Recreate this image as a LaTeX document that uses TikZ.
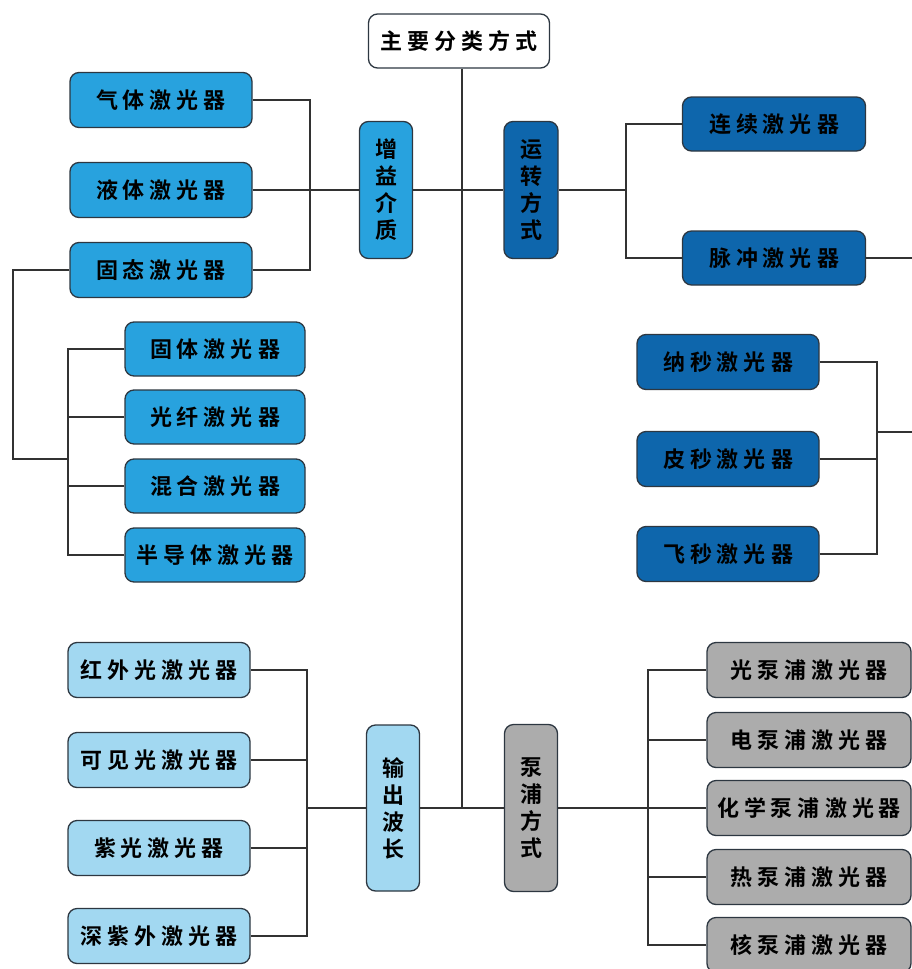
\documentclass[tikz,border=0pt]{standalone}
\usepackage{fontspec}
\newfontfamily\cjk{Noto Sans CJK SC}[BoldFont={Noto Sans CJK SC Bold}]
\newcommand\lsp{\kern5pt}
\definecolor{mblue}{RGB}{40,162,222}
\definecolor{dblue}{RGB}{14,102,172}
\definecolor{lblue}{RGB}{162,216,241}
\definecolor{gbox}{RGB}{172,172,172}
\definecolor{edgec}{RGB}{45,55,65}
\definecolor{linec}{RGB}{50,50,50}
\tikzset{
  box/.style={draw=edgec, line width=1.3pt, rounded corners=9pt, inner sep=0pt,
    font=\cjk\bfseries\fontsize{22}{27}\selectfont, text=black, align=center},
  hbox/.style={box, minimum width=182pt, minimum height=55pt},
  vbox/.style={box, minimum width=53pt, minimum height=137pt},
  conn/.style={draw=linec, line width=1.2pt},
}
\begin{document}
\begin{tikzpicture}[x=1pt,y=-1pt]
\useasboundingbox (0,0) rectangle (912,969);
% root
\node[box, fill=white, minimum width=181pt, minimum height=54pt] (root) at (459,41) {主\lsp 要\lsp 分\lsp 类\lsp 方\lsp 式};
% gain medium group
\node[vbox, fill=mblue] (zy) at (386,190) {增\\益\\介\\质};
\node[hbox, fill=mblue] (qt) at (161,100) {气\lsp 体\lsp 激\lsp 光\lsp 器};
\node[hbox, fill=mblue] (yt) at (161,190) {液\lsp 体\lsp 激\lsp 光\lsp 器};
\node[hbox, fill=mblue] (gtai) at (161,270) {固\lsp 态\lsp 激\lsp 光\lsp 器};
\node[hbox, fill=mblue, minimum width=180pt, minimum height=54pt] (gti) at (215,349) {固\lsp 体\lsp 激\lsp 光\lsp 器};
\node[hbox, fill=mblue, minimum width=180pt, minimum height=54pt] (gx) at (215,417) {光\lsp 纤\lsp 激\lsp 光\lsp 器};
\node[hbox, fill=mblue, minimum width=180pt, minimum height=54pt] (hh) at (215,486) {混\lsp 合\lsp 激\lsp 光\lsp 器};
\node[hbox, fill=mblue, minimum width=180pt, minimum height=54pt] (bdt) at (215,555) {半\lsp 导\lsp 体\lsp 激\lsp 光\lsp 器};
% operation mode group
\node[vbox, fill=dblue, minimum width=54pt] (yz) at (531,190) {运\\转\\方\\式};
\node[hbox, fill=dblue, minimum width=183pt, minimum height=54pt] (lx) at (774,124) {连\lsp 续\lsp 激\lsp 光\lsp 器};
\node[hbox, fill=dblue, minimum width=183pt, minimum height=54pt] (mc) at (774,258) {脉\lsp 冲\lsp 激\lsp 光\lsp 器};
\node[hbox, fill=dblue] (ns) at (728,362) {纳\lsp 秒\lsp 激\lsp 光\lsp 器};
\node[hbox, fill=dblue] (ps) at (728,459) {皮\lsp 秒\lsp 激\lsp 光\lsp 器};
\node[hbox, fill=dblue] (fs) at (728,554) {飞\lsp 秒\lsp 激\lsp 光\lsp 器};
% output wavelength group
\node[vbox, fill=lblue, minimum height=166pt] (sc) at (393,808) {输\\出\\波\\长};
\node[hbox, fill=lblue] (hw) at (159,670) {红\lsp 外\lsp 光\lsp 激\lsp 光\lsp 器};
\node[hbox, fill=lblue] (kj) at (159,760) {可\lsp 见\lsp 光\lsp 激\lsp 光\lsp 器};
\node[hbox, fill=lblue] (zg) at (159,848) {紫\lsp 光\lsp 激\lsp 光\lsp 器};
\node[hbox, fill=lblue] (szw) at (159,936) {深\lsp 紫\lsp 外\lsp 激\lsp 光\lsp 器};
% pumping group
\node[vbox, fill=gbox, minimum height=167pt] (bp) at (531,808) {泵\\浦\\方\\式};
\node[hbox, fill=gbox, minimum width=204pt] (gb) at (809,670) {光\lsp 泵\lsp 浦\lsp 激\lsp 光\lsp 器};
\node[hbox, fill=gbox, minimum width=204pt] (db) at (809,740) {电\lsp 泵\lsp 浦\lsp 激\lsp 光\lsp 器};
\node[hbox, fill=gbox, minimum width=204pt] (hx) at (809,808) {化\lsp 学\lsp 泵\lsp 浦\lsp 激\lsp 光\lsp 器};
\node[hbox, fill=gbox, minimum width=204pt] (rb) at (809,877) {热\lsp 泵\lsp 浦\lsp 激\lsp 光\lsp 器};
\node[hbox, fill=gbox, minimum width=204pt] (hb) at (809,945) {核\lsp 泵\lsp 浦\lsp 激\lsp 光\lsp 器};
% junction coordinates
\coordinate (tb) at (462,808);
\coordinate (j1) at (310,190);
\coordinate (j2a) at (13,270);
\coordinate (j2b) at (13,459);
\coordinate (j2) at (68,459);
\coordinate (j3) at (626,190);
\coordinate (j4a) at (912,258);
\coordinate (j4) at (877,432);
\coordinate (j4b) at (912,432);
\coordinate (j5) at (307,808);
\coordinate (j6) at (648,808);
% connectors
\draw[conn] (root.south -| tb) -- (tb);
\draw[conn] (zy.east) -- (yz.west);
\draw[conn] (sc.east) -- (bp.west);
\draw[conn] (qt.east) -| (j1);
\draw[conn] (gtai.east) -| (j1);
\draw[conn] (yt.east) -- (zy.west);
\draw[conn] (gtai.west) -- (j2a) -- (j2b) -- (j2);
\draw[conn] (gti.west) -| (j2);
\draw[conn] (bdt.west) -| (j2);
\draw[conn] (gx.west) -- (gx.west -| j2);
\draw[conn] (hh.west) -- (hh.west -| j2);
\draw[conn] (yz.east) -- (j3);
\draw[conn] (lx.west) -| (j3);
\draw[conn] (mc.west) -| (j3);
\draw[conn] (mc.east) -- (j4a);
\draw[conn] (ns.east) -| (j4);
\draw[conn] (fs.east) -| (j4);
\draw[conn] (ps.east) -- (ps.east -| j4);
\draw[conn] (j4) -- (j4b);
\draw[conn] (hw.east) -| (j5);
\draw[conn] (szw.east) -| (j5);
\draw[conn] (kj.east) -- (kj.east -| j5);
\draw[conn] (zg.east) -- (zg.east -| j5);
\draw[conn] (j5) -- (sc.west);
\draw[conn] (bp.east) -- (hx.west);
\draw[conn] (gb.west) -| (j6);
\draw[conn] (hb.west) -| (j6);
\draw[conn] (db.west) -- (db.west -| j6);
\draw[conn] (rb.west) -- (rb.west -| j6);
\end{tikzpicture}
\end{document}
